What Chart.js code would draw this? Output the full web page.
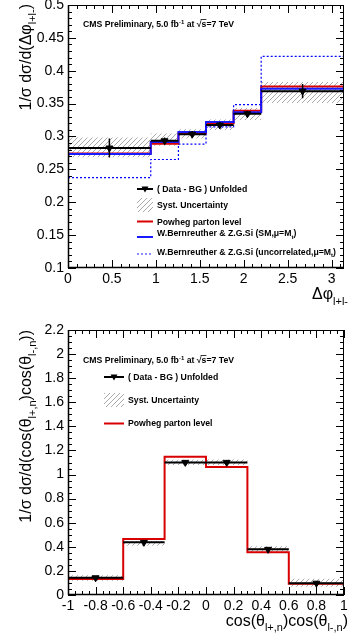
<!DOCTYPE html>
<html>
<head>
<meta charset="utf-8">
<script src="https://cdn.jsdelivr.net/npm/chart.js@4.4.1/dist/chart.umd.min.js"></script>
<style>
html, body { margin: 0; padding: 0; background: #fff; }
#wrap { position: relative; width: 349px; height: 637px; overflow: hidden; }
.box { position: absolute; left: 0; width: 349px; }
#topBox { top: 0; height: 318px; }
#botBox { top: 318px; height: 319px; }
</style>
</head>
<body>
<div id="wrap">
  <div class="box" id="topBox"><canvas id="chartPhi" width="349" height="318"></canvas></div>
  <div class="box" id="botBox"><canvas id="chartCos" width="349" height="319"></canvas></div>
</div>
<script>
// ---- delta phi(l+l-) panel ----
const phiEdges = [0, 0.942, 1.257, 1.571, 1.885, 2.199, 3.1416];
const phiData = [0.2825, 0.2935, 0.3035, 0.3175, 0.3345, 0.369];
const phiStatErr = [0.0143, 0.005, 0.005, 0.0045, 0.0045, 0.011];
const phiSystHigh = [0.2985, 0.3045, 0.311, 0.326, 0.3435, 0.383];
const phiSystLow = [0.2685, 0.286, 0.297, 0.310, 0.325, 0.351];
const phiPowheg = [0.274, 0.289, 0.305, 0.320, 0.339, 0.376];
const phiSM = [0.2735, 0.2915, 0.307, 0.322, 0.337, 0.3725];
const phiUncorr = [0.2375, 0.265, 0.2885, 0.3145, 0.3485, 0.422];

// ---- cos(theta l+,n) cos(theta l-,n) panel ----
const cosEdges = [-1, -0.6, -0.3, 0, 0.3, 0.6, 1];
const cosData = [0.143, 0.437, 1.101, 1.101, 0.379, 0.098];
const cosStatErr = [0.012, 0.015, 0.02, 0.02, 0.015, 0.012];
const cosSystHigh = [0.165, 0.448, 1.122, 1.124, 0.405, 0.135];
const cosSystLow = [0.118, 0.408, 1.08, 1.079, 0.348, 0.068];
const cosPowheg = [0.132, 0.465, 1.148, 1.062, 0.354, 0.093];

const phiLegend = ['( Data - BG ) Unfolded', 'Syst. Uncertainty', 'Powheg parton level',
  'W.Bernreuther & Z.G.Si (SM,\u03bc=M', 'W.Bernreuther & Z.G.Si (uncorrelated,\u03bc=M'];
const cosLegend = ['( Data - BG ) Unfolded', 'Syst. Uncertainty', 'Powheg parton level'];

const FONT = "'Liberation Sans', Arial, Helvetica, sans-serif";
const RED = '#d80000';
const BLUE = '#1a1aff';

function makeHatch() {
    const c = document.createElement('canvas');
    c.width = 5; c.height = 5;
    const g = c.getContext('2d');
    g.strokeStyle = '#a0a0a0';
    g.lineWidth = 0.9;
    g.beginPath();
    g.moveTo(0, 5); g.lineTo(5, 0);
    g.moveTo(-1, 1); g.lineTo(1, -1);
    g.moveTo(4, 6); g.lineTo(6, 4);
    g.stroke();
    return g.createPattern(c, 'repeat');
}
const hatch = makeHatch();

// histogram as stepped line: one point per lower edge plus the last edge
function stepPoints(edges, vals) {
    const pts = vals.map((v, i) => ({ x: edges[i], y: v }));
    pts.push({ x: edges[edges.length - 1], y: vals[vals.length - 1] });
    return pts;
}
// one horizontal segment per bin
function segPoints(edges, vals) {
    const pts = [];
    vals.forEach((v, i) => {
        pts.push({ x: edges[i], y: v }, { x: edges[i + 1], y: v }, { x: edges[i + 1], y: null });
    });
    return pts;
}
function centers(edges, vals) {
    return vals.map((v, i) => ({ x: (edges[i] + edges[i + 1]) / 2, y: v }));
}
function errPoints(edges, vals, errs) {
    const pts = [];
    vals.forEach((v, i) => {
        const c = (edges[i] + edges[i + 1]) / 2;
        pts.push({ x: c, y: v - errs[i] }, { x: c, y: v + errs[i] }, { x: c, y: null });
    });
    return pts;
}

function lineSet(data, color, width, order, extra) {
    return Object.assign({
        data, borderColor: color, borderWidth: width, pointRadius: 0,
        fill: false, order, spanGaps: false
    }, extra || {});
}

function dataSets(edges, vals, errs, hi, lo) {
    return [
        lineSet(stepPoints(edges, hi), 'rgba(0,0,0,0)', 0, 20, { stepped: 'before', fill: { target: '+1' }, backgroundColor: hatch }),
        lineSet(stepPoints(edges, lo), 'rgba(0,0,0,0)', 0, 21, { stepped: 'before' }),
        lineSet(segPoints(edges, vals), '#000', 2, 3),
        lineSet(errPoints(edges, vals, errs), '#000', 1.5, 2),
        {
            data: centers(edges, vals), showLine: false, order: 1,
            pointStyle: 'triangle', rotation: 180, pointRadius: 4,
            pointBackgroundColor: '#000', pointBorderColor: '#000', pointBorderWidth: 1
        }
    ];
}

function fmt(v) {
    return String(Number(v.toFixed(2)));
}

function drawRich(ctx, parts, x, y, align) {
    let w = 0;
    parts.forEach(p => { ctx.font = p.font; w += ctx.measureText(p.t).width; });
    let cx = align === 'right' ? x - w : x;
    ctx.textAlign = 'left';
    ctx.textBaseline = 'alphabetic';
    parts.forEach(p => {
        ctx.font = p.font;
        const tw = ctx.measureText(p.t).width;
        ctx.fillText(p.t, cx, y + (p.dy || 0));
        if (p.over) {
            ctx.beginPath();
            ctx.lineWidth = 0.8;
            ctx.moveTo(cx - 1, y - p.over);
            ctx.lineTo(cx + tw, y - p.over);
            ctx.stroke();
        }
        cx += tw;
    });
}

const B = (s) => 'bold ' + s + 'px ' + FONT;
const N = (s) => s + 'px ' + FONT;

function cmsText(ctx, x, y) {
    drawRich(ctx, [
        { t: 'CMS Preliminary, 5.0 fb', font: B(8.7) },
        { t: '-1', font: B(6), dy: -3.5 },
        { t: ' at \u221a', font: B(8.7) },
        { t: 's', font: B(8.7), over: 7.5 },
        { t: '=7 TeV', font: B(8.7) }
    ], x, y, 'left');
}

function legendSwatch(ctx, kind, x0, x1, y) {
    ctx.save();
    if (kind === 'data') {
        ctx.strokeStyle = '#000'; ctx.lineWidth = 2;
        ctx.beginPath(); ctx.moveTo(x0, y); ctx.lineTo(x1, y); ctx.stroke();
        const c = (x0 + x1) / 2;
        ctx.fillStyle = '#000';
        ctx.beginPath(); ctx.moveTo(c - 3.5, y - 2.5); ctx.lineTo(c + 3.5, y - 2.5); ctx.lineTo(c, y + 3.5); ctx.closePath(); ctx.fill();
    } else if (kind === 'hatch') {
        ctx.fillStyle = hatch;
        ctx.fillRect(x0, y - 7, x1 - x0, 14);
    } else {
        ctx.strokeStyle = kind === 'red' ? RED : BLUE;
        ctx.lineWidth = kind === 'dotted' ? 1 : 2;
        if (kind === 'dotted') ctx.setLineDash([2, 2]);
        ctx.beginPath(); ctx.moveTo(x0, y); ctx.lineTo(x1, y); ctx.stroke();
    }
    ctx.restore();
}

// ROOT style frame with inward ticks on all four sides, plus the texts
const rootFrame = {
    id: 'rootFrame',
    afterDraw(chart, args, opts) {
        const { ctx, chartArea: a, scales: { x, y } } = chart;
        ctx.save();
        ctx.strokeStyle = '#000';
        ctx.fillStyle = '#000';
        ctx.lineWidth = 1;
        ctx.strokeRect(a.left + 0.5, a.top + 0.5, a.right - a.left - 1, a.bottom - a.top - 1);
        ctx.lineWidth = 1.5;
        ctx.beginPath();
        ctx.moveTo(a.left + 0.5, a.top); ctx.lineTo(a.left + 0.5, a.bottom);
        ctx.moveTo(a.left, a.bottom - 0.5); ctx.lineTo(a.right, a.bottom - 0.5);
        ctx.stroke();
        ctx.lineWidth = 1;
        ctx.beginPath();
        const isMajor = (v, m) => Math.abs(v / m - Math.round(v / m)) < 1e-6;
        const nx = Math.round((x.max - x.min) / opts.xMinor);
        for (let i = 0; i <= nx + 1; i++) {
            const v = x.min + i * opts.xMinor;
            if (v > x.max + 1e-9) break;
            const px = Math.round(x.getPixelForValue(v)) + 0.5;
            const len = isMajor(v, opts.xMajor) ? 8 : 4;
            ctx.moveTo(px, a.bottom); ctx.lineTo(px, a.bottom - len);
            ctx.moveTo(px, a.top); ctx.lineTo(px, a.top + len);
        }
        const ny = Math.round((y.max - y.min) / opts.yMinor);
        for (let i = 0; i <= ny; i++) {
            const v = y.min + i * opts.yMinor;
            const py = Math.round(y.getPixelForValue(v)) + 0.5;
            const len = isMajor(v, opts.yMajor) ? 8 : 4;
            ctx.moveTo(a.left, py); ctx.lineTo(a.left + len, py);
            ctx.moveTo(a.right, py); ctx.lineTo(a.right - len, py);
        }
        ctx.stroke();
        opts.texts(ctx);
        ctx.restore();
    }
};

function baseOptions(xr, yr, xH, pad) {
    const tickFont = { family: FONT, size: 14 };
    return {
        responsive: false,
        animation: false,
        events: [],
        layout: { padding: pad },
        plugins: { legend: { display: false }, tooltip: { enabled: false } },
        scales: {
            x: {
                type: 'linear', min: xr.min, max: xr.max,
                grid: { display: false, drawTicks: false }, border: { display: false },
                ticks: {
                    stepSize: xr.step, includeBounds: false, autoSkip: false, maxRotation: 0,
                    color: '#000', font: tickFont, padding: 3, callback: fmt
                },
                afterFit: s => { s.height = xH; s.paddingLeft = 0; s.paddingRight = 0; }
            },
            y: {
                type: 'linear', min: yr.min, max: yr.max,
                grid: { display: false, drawTicks: false }, border: { display: false },
                ticks: {
                    stepSize: yr.step, includeBounds: false, autoSkip: false,
                    color: '#000', font: tickFont, padding: 4, callback: fmt
                },
                afterFit: s => { s.width = 68; s.paddingTop = 0; s.paddingBottom = 0; }
            }
        }
    };
}

// top chart: delta phi
const phiOptions = baseOptions({ min: 0, max: Math.PI, step: 0.5 }, { min: 0.1, max: 0.5, step: 0.05 }, 50,
    { top: 4, right: 2, left: 0, bottom: 0 });
phiOptions.plugins.rootFrame = {
    xMajor: 0.5, xMinor: 0.1, yMajor: 0.05, yMinor: 0.01,
    texts: (ctx) => {
        cmsText(ctx, 83, 27);
        const rows = [
            { kind: 'data', line: 189, base: 192 },
            { kind: 'hatch', line: 205, base: 208 },
            { kind: 'red', line: 221.5, base: 224.5 },
            { kind: 'blue', line: 237, base: 236.3 },
            { kind: 'dotted', line: 254, base: 254.7 }
        ];
        rows.forEach((r, i) => {
            legendSwatch(ctx, r.kind, 137, 153, r.line);
            const parts = [{ t: phiLegend[i], font: B(8.7) }];
            if (i >= 3) parts.push({ t: 't', font: B(6), dy: 2.5 }, { t: ')', font: B(8.7) });
            ctx.fillStyle = '#000';
            drawRich(ctx, parts, 157, r.base, 'left');
        });
        drawRich(ctx, [
            { t: '\u0394\u03c6', font: N(16) },
            { t: 'l+l-', font: N(11), dy: 6 }
        ], 348, 299, 'right');
        ctx.save();
        ctx.translate(31, 4);
        ctx.rotate(-Math.PI / 2);
        drawRich(ctx, [
            { t: '1/\u03c3 d\u03c3/d(\u0394\u03c6', font: N(16) },
            { t: 'l+l-', font: N(11), dy: 5 },
            { t: ')', font: N(16) }
        ], 0, 0, 'right');
        ctx.restore();
    }
};

new Chart(document.getElementById('chartPhi'), {
    type: 'line',
    data: {
        datasets: [
            ...dataSets(phiEdges, phiData, phiStatErr, phiSystHigh, phiSystLow),
            lineSet(stepPoints(phiEdges, phiPowheg), RED, 2, 8, { stepped: 'before' }),
            lineSet(stepPoints(phiEdges, phiSM), BLUE, 2, 7, { stepped: 'before' }),
            lineSet(stepPoints(phiEdges, phiUncorr), '#0000ff', 1.2, 6, { stepped: 'before', borderDash: [2, 2] })
        ]
    },
    options: phiOptions,
    plugins: [rootFrame]
});

// bottom chart: cos cos
const cosOptions = baseOptions({ min: -1, max: 1, step: 0.2 }, { min: 0, max: 2.2, step: 0.2 }, 42,
    { top: 12, right: 2, left: 0, bottom: 0 });
cosOptions.plugins.rootFrame = {
    xMajor: 0.2, xMinor: 0.05, yMajor: 0.2, yMinor: 0.05,
    texts: (ctx) => {
        cmsText(ctx, 83, 45);
        const rows = [
            { kind: 'data', line: 59, base: 62 },
            { kind: 'hatch', line: 82, base: 85 },
            { kind: 'red', line: 105.5, base: 108.3 }
        ];
        rows.forEach((r, i) => {
            legendSwatch(ctx, r.kind, 104, 124, r.line);
            ctx.fillStyle = '#000';
            drawRich(ctx, [{ t: cosLegend[i], font: B(8.7) }], 128, r.base, 'left');
        });
        drawRich(ctx, [
            { t: 'cos(\u03b8', font: N(16) },
            { t: 'l+,n', font: N(11), dy: 5 },
            { t: ')cos(\u03b8', font: N(16) },
            { t: 'l-,n', font: N(11), dy: 5 },
            { t: ')', font: N(16) }
        ], 348, 308, 'right');
        ctx.save();
        ctx.translate(31, 12);
        ctx.rotate(-Math.PI / 2);
        drawRich(ctx, [
            { t: '1/\u03c3 d\u03c3/d(cos(\u03b8', font: N(16) },
            { t: 'l+,n', font: N(11), dy: 5 },
            { t: ')cos(\u03b8', font: N(16) },
            { t: 'l-,n', font: N(11), dy: 5 },
            { t: '))', font: N(16) }
        ], 0, 0, 'right');
        ctx.restore();
    }
};

new Chart(document.getElementById('chartCos'), {
    type: 'line',
    data: {
        datasets: [
            ...dataSets(cosEdges, cosData, cosStatErr, cosSystHigh, cosSystLow),
            lineSet(stepPoints(cosEdges, cosPowheg), RED, 2, 8, { stepped: 'before' })
        ]
    },
    options: cosOptions,
    plugins: [rootFrame]
});
</script>
</body>
</html>
